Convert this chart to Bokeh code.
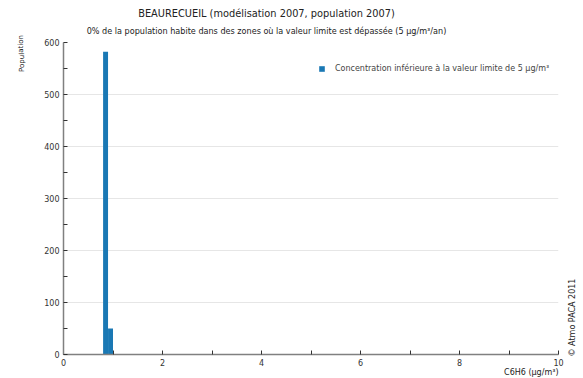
from bokeh.plotting import figure
from bokeh.models import Label, Legend, LegendItem, FixedTicker, ColumnDataSource, Range1d
from bokeh.embed import file_html
from bokeh.resources import INLINE

# Histogram of population by benzene concentration class
bin_left = [0.8, 0.9]
bin_right = [0.9, 1.0]
population = [582, 50]

title_text = "BEAURECUEIL (modélisation 2007, population 2007)"
subtitle_text = "0% de la population habite dans des zones où la valeur limite est dépassée (5 µg/m³/an)"
legend_text = "Concentration inférieure à la valeur limite de 5 µg/m³"
x_label = "C6H6 (µg/m³)"
y_label = "Population"
credit = "© Atmo PACA 2011"

FONT = "DejaVu Sans"
BAR = "#1a78b4"
AXIS = "#808080"

p = figure(width=583, height=378, output_backend="svg", toolbar_location=None,
           x_range=Range1d(0, 10), y_range=Range1d(0, 600),
           min_border_left=63, min_border_right=25, min_border_top=42, min_border_bottom=24)
p.outline_line_color = None
p.background_fill_color = "white"
p.border_fill_color = "white"

src = ColumnDataSource(dict(left=bin_left, right=bin_right, top=population))
bars = p.quad(left="left", right="right", bottom=0, top="top", source=src,
              fill_color=BAR, line_color=None)

p.xgrid.grid_line_color = None
p.ygrid.grid_line_color = "#e6e6e6"
p.ygrid.ticker = FixedTicker(ticks=[100, 200, 300, 400, 500, 600])

for ax in (p.xaxis[0], p.yaxis[0]):
    ax.axis_line_color = AXIS
    ax.axis_line_width = 1.5
    ax.major_tick_line_color = "#333333"
    ax.minor_tick_line_color = "#333333"
    ax.major_tick_in = 4
    ax.major_tick_out = 0
    ax.minor_tick_in = 4
    ax.minor_tick_out = 0
    ax.major_label_text_font = FONT
    ax.major_label_text_font_size = "8px"
    ax.major_label_text_color = "#333333"
    ax.major_label_standoff = 4

p.xaxis[0].ticker = FixedTicker(ticks=[0, 2, 4, 6, 8, 10], minor_ticks=[1, 3, 5, 7, 9])
p.yaxis[0].ticker = FixedTicker(ticks=[0, 100, 200, 300, 400, 500, 600],
                                minor_ticks=[50, 150, 250, 350, 450, 550])

# Legend inside the plot area
legend = Legend(items=[LegendItem(label=legend_text, renderers=[bars])],
                location=(255, 281), border_line_color=None,
                background_fill_alpha=0, label_text_font=FONT,
                label_text_font_size="8px", glyph_width=7, glyph_height=7,
                label_standoff=10, padding=4, margin=0)
p.add_layout(legend, "center")

def text_label(text, x, y, size, align="center", angle=0.0):
    return Label(x=x, y=y, x_units="screen", y_units="screen", text=text,
                 text_font=FONT, text_font_size=size, text_align=align,
                 text_baseline="middle", angle=angle, text_color="#222222")

# Titles and axis labels live in the side panels around the frame
p.add_layout(text_label(subtitle_text, 203, 12, "8.1px"), "above")
p.add_layout(text_label(title_text, 203, 19, "9.8px"), "above")
p.add_layout(text_label(y_label, -12, 301, "7px", angle=1.5708), "left")
p.add_layout(text_label(x_label, 495, 5, "8px", align="right"), "below")
p.add_layout(text_label(credit, 14, 37, "8px", angle=1.5708), "right")

open("out.html", "w").write(file_html(p, INLINE))
